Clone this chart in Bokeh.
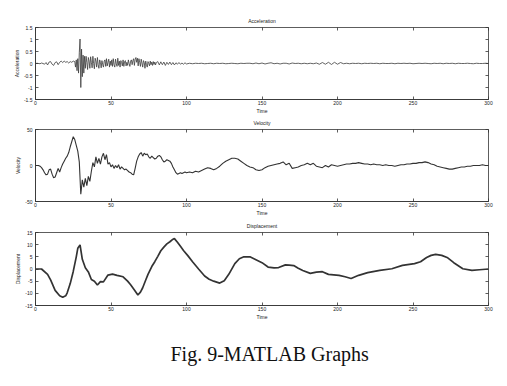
import numpy as np
from bokeh.plotting import figure
from bokeh.models import LinearAxis, FixedTicker, Title, Range1d, CustomLabelingPolicy
from bokeh.layouts import column
from bokeh.embed import file_html
from bokeh.resources import INLINE

# ---------------- data ----------------
x_ticks = [0, 50, 100, 150, 200, 250, 300]
x_tick_labels = ["0", "50", "100", "150", "200", "250", "300"]

acc_ticks = [-1.5, -1, -0.5, 0, 0.5, 1, 1.5]
acc_tick_labels = ["-1.5", "-1", "-0.5", "0", "0.5", "1", "1.5"]
vel_ticks = [-50, 0, 50]
vel_tick_labels = ["-50", "0", "50"]
disp_ticks = [-15, -10, -5, 0, 5, 10, 15]
disp_tick_labels = ["-15", "-10", "-5", "0", "5", "10", "15"]

titles = ["Acceleration", "Velocity", "Displacement"]
x_label = "Time"
caption = "Fig. 9-MATLAB Graphs"

# Acceleration, segment A: t = 0..26 step 1
acc_a = [0.00, 0.01, 0.00, -0.01, 0.02, 0.00, -0.03, 0.04, -0.06, 0.06,
         0.08, -0.03, -0.08, 0.04, 0.07, -0.05, 0.05, 0.10, 0.04, 0.10,
         0.05, 0.08, 0.02, 0.08, 0.05, 0.10, 0.08]
# segment B: t = 26.5..80 step 0.5
acc_b = [-0.15, 0.15, -0.30, 0.20, -0.40, 0.45, 1.02, -1.00, 0.60, -0.55,
         0.35, -0.40, 0.30, -0.20, 0.30, 0.05, -0.25, 0.25, 0.10, -0.20,
         0.28, 0.05, -0.18, 0.30, 0.00, -0.22, 0.22, 0.10, -0.15, 0.25,
         -0.05, -0.20, 0.15, 0.05, -0.18, 0.12, -0.05, -0.15, 0.10, 0.15,
         -0.12, 0.20, -0.10, 0.05, 0.18, -0.15, 0.10, -0.08, 0.15, -0.12,
         0.20, -0.05, -0.15, 0.18, 0.00, -0.12, 0.22, -0.08, 0.10, -0.15,
         0.12, 0.05, -0.10, 0.15, -0.12, 0.08, 0.12, -0.10, 0.05, -0.08,
         0.15, 0.00, -0.12, 0.10, 0.15, -0.05, 0.12, 0.20, -0.08, 0.18,
         0.25, 0.05, 0.22, -0.10, 0.20, 0.05, -0.12, 0.18, 0.02, -0.15,
         0.12, 0.05, -0.20, 0.10, -0.05, -0.15, 0.08, 0.00, -0.10, 0.10,
         -0.05, 0.06, -0.08, 0.08, -0.04, 0.06, -0.06, 0.04]
# segment C: t = 81..100 step 1
acc_c = [0.08, -0.06, 0.07, -0.05, 0.06, -0.08, 0.05, -0.04, 0.06, -0.05,
         0.04, -0.06, 0.03, -0.03, 0.04, -0.03, 0.02, -0.03, 0.03, -0.02]
# segment D: t = 102..300 step 2
acc_d = [0.01, -0.01, 0.01, 0.00, 0.01, -0.01, 0.00, 0.01, -0.01, 0.01,
         0.00, 0.01, -0.01, 0.00, 0.01, 0.00, -0.01, 0.01, 0.00, 0.01,
         0.01, -0.01, 0.02, -0.01, 0.02, -0.02, 0.01, 0.03, -0.01, 0.01,
         -0.02, 0.01, 0.01, -0.02, 0.02, 0.00, 0.01, -0.01, 0.01, -0.01,
         0.01, -0.01, 0.02, -0.03, 0.04, -0.03, 0.05, -0.04, 0.05, -0.03,
         0.04, -0.01, 0.01, -0.01, 0.01, 0.00, 0.01, -0.01, 0.01, 0.00,
         0.01, 0.00, 0.01, -0.01, 0.01, 0.00, 0.00, 0.01, -0.01, 0.01,
         0.00, 0.01, 0.00, 0.01, -0.01, 0.00, 0.01, 0.00, 0.01, 0.00,
         -0.01, 0.01, 0.00, 0.01, -0.01, 0.01, 0.00, 0.01, -0.01, 0.01,
         0.00, 0.00, 0.01, 0.00, -0.01, 0.01, 0.00, 0.00, 0.01, 0.00]

# Velocity, segment A: t = 0..100 step 1
vel_a = [0, 0, 0, -1, -3, -6, -10, -13, -12, -6,
         -5, -12, -17, -16, -10, -4, -9, -3, 2, 6,
         10, 13, 18, 26, 33, 40, 36, 28, 20, 5,
         -40, -20, -30, -18, -28, -15, -22, -8, 4, -2,
         12, 3, 10, 2, 12, 17, 8, 15, 2, 4,
         -2, 1, -4, 0, -3, 1, -5, -2, -4, -6,
         -5, -7, -9, -10, -12, -13, -4, 6, 12, 16,
         18, 13, 17, 15, 16, 12, 10, 13, 11, 9,
         10, 13, 14, 12, 8, 5, 6, 8, 7, 6,
         3, -2, -6, -10, -12, -11, -10, -11, -10, -9,
         -10]
# segment B: t = 102..300 step 2
vel_b = [-9, -10, -8, -9, -7, -5, -3, -4, -6, -4,
         -1, 3, 6, 8, 10, 10, 9, 6, 3, 0,
         -2, -3, -6, -7, -6, -3, -1, 0, 1, 2,
         3, 5, 1, 3, -4, -3, -2, 0, 1, 3,
         1, 3, -1, -2, -3, 0, -2, 1, 0, -1,
         0, 1, 2, 2, 3, 3, 4, 3, 2, 2,
         1, 2, 1, 1, 0, 1, 0, 0, -1, 0,
         1, 1, 2, 2, 3, 3, 4, 4, 5, 4,
         2, 1, -1, -2, -3, -4, -5, -5, -4, -3,
         -2, -2, -1, -1, 0, 0, 0, 1, 0, 0]

# Displacement
disp_t = [0, 4, 8, 10, 13, 16, 18, 20, 21, 23, 25, 27, 28, 29.5, 31, 33, 35,
          37, 39, 41, 43, 45, 48, 51, 54, 58, 61, 63, 65.5, 67.8, 69.5, 71,
          73, 74.5, 77, 79, 81, 83, 85, 87, 89, 90.5, 92, 94, 96, 98, 101,
          104, 108, 112, 115, 118, 122, 125, 128, 132, 135, 138, 142, 146,
          150, 154, 158, 161, 165.5, 168, 171, 174, 177, 182, 186, 190, 194,
          201, 205, 209, 214, 220, 228, 236, 243, 251, 255, 259, 262, 265,
          269, 273, 277, 283, 289, 294, 300]
disp_v = [0, 0, -2.2, -4.5, -8.8, -11, -11.6, -11, -9.8, -6, -1, 5, 8.5, 9.9,
          4, 0.5, -1.2, -4.3, -5, -6.6, -5.2, -5.3, -2.5, -2.1, -2.6, -3.2,
          -5, -6.5, -8.6, -10.7, -9.5, -7.7, -4.5, -2.2, 1, 3, 5.2, 7.5, 9,
          10.3, 11.2, 12, 12.5, 11, 9.3, 7.6, 5.4, 3, 0, -2.9, -4.2, -5, -5.8,
          -4.8, -2.2, 2.2, 4.2, 5, 5, 3.8, 2.6, 0.8, 0.5, 0.6, 1.7, 1.6, 1.4,
          0.3, -0.6, -1.8, -1.3, -1.1, -2.2, -2.6, -3.2, -3.9, -2.6, -1.5,
          -0.6, 0.1, 1.5, 2.2, 3, 4.7, 5.6, 6, 5.6, 4.6, 2.6, 0.1, -0.6, -0.3, 0]

# sampling grids
acc_t = np.concatenate([
    0 + 1.0 * np.arange(len(acc_a)),
    26.5 + 0.5 * np.arange(len(acc_b)),
    81 + 1.0 * np.arange(len(acc_c)),
    102 + 2.0 * np.arange(len(acc_d)),
])
acc_v = np.array(acc_a + acc_b + acc_c + acc_d)
vel_t = np.concatenate([0 + 1.0 * np.arange(len(vel_a)),
                        102 + 2.0 * np.arange(len(vel_b))])
vel_v = np.array(vel_a + vel_b)

FONT = "Liberation Sans"
FS = "5px"
TXT = "#222222"
LINE = "#333333"


def style_axis(ax, ticks, labels, show_labels=True):
    ax.ticker = FixedTicker(ticks=ticks)
    ax.major_label_overrides = {t: l for t, l in zip(ticks, labels)}
    ax.major_tick_in = 3
    ax.major_tick_out = 0
    ax.minor_tick_in = 0
    ax.minor_tick_out = 0
    ax.major_tick_line_color = "#333333"
    ax.major_tick_line_width = 0.8
    ax.axis_line_color = "#333333"
    ax.axis_line_width = 0.8
    ax.major_label_text_font = FONT
    ax.major_label_text_color = TXT
    ax.major_label_text_font_size = FS
    ax.axis_label_text_font = FONT
    ax.axis_label_text_font_size = FS
    ax.axis_label_text_font_style = "normal"
    ax.axis_label_text_color = TXT
    if not show_labels:
        ax.major_label_policy = CustomLabelingPolicy(code="return new Set()")
        ax.major_label_text_font_size = "1px"
        ax.major_label_standoff = 0
        ax.axis_line_color = None


def panel(height, top, bottom, yr, yticks, ylabels, title, t, v, lw, col):
    p = figure(width=507, height=height, output_backend="svg",
               toolbar_location=None,
               x_range=Range1d(0, 300), y_range=Range1d(*yr),
               min_border_left=35, min_border_right=19,
               min_border_top=top, min_border_bottom=bottom)
    p.xgrid.visible = False
    p.ygrid.visible = False
    p.outline_line_color = "#333333"
    p.outline_line_width = 0.8
    p.background_fill_color = "white"
    p.border_fill_color = "white"

    p.title.text = title
    p.title.align = "center"
    p.title.text_font = FONT
    p.title.text_font_size = FS
    p.title.text_font_style = "normal"
    p.title.text_color = TXT
    p.title.standoff = 0

    style_axis(p.xaxis[0], x_ticks, x_tick_labels)
    p.xaxis[0].axis_label = x_label
    p.xaxis[0].major_label_standoff = 1
    p.xaxis[0].axis_label_standoff = 0
    style_axis(p.yaxis[0], yticks, ylabels)
    p.yaxis[0].axis_label = title
    p.yaxis[0].major_label_standoff = 3
    p.yaxis[0].axis_label_standoff = 1

    top_ax = LinearAxis()
    style_axis(top_ax, x_ticks, x_tick_labels, show_labels=False)
    p.add_layout(top_ax, "above")
    right_ax = LinearAxis()
    style_axis(right_ax, yticks, ylabels, show_labels=False)
    p.add_layout(right_ax, "right")

    p.line(t, v, line_color=col, line_width=lw)
    return p


p1 = panel(116, 27, 16, (-1.5, 1.5), acc_ticks, acc_tick_labels,
           titles[0], acc_t, acc_v, 0.8, "#3c3c3c")
p2 = panel(102, 13, 16, (-50, 50), vel_ticks, vel_tick_labels,
           titles[1], vel_t, vel_v, 1.1, LINE)
p3 = panel(168, 14, 81, (-15, 15), disp_ticks, disp_tick_labels,
           titles[2], disp_t, disp_v, 1.7, LINE)

cap = Title(text=caption, align="left", offset=135,
            text_font="Liberation Serif",
            text_font_size="20px", text_font_style="normal",
            text_color="#111111", standoff=36)
p3.add_layout(cap, "below")

layout = column(p1, p2, p3, spacing=0)
open("out.html", "w").write(file_html(layout, INLINE))
